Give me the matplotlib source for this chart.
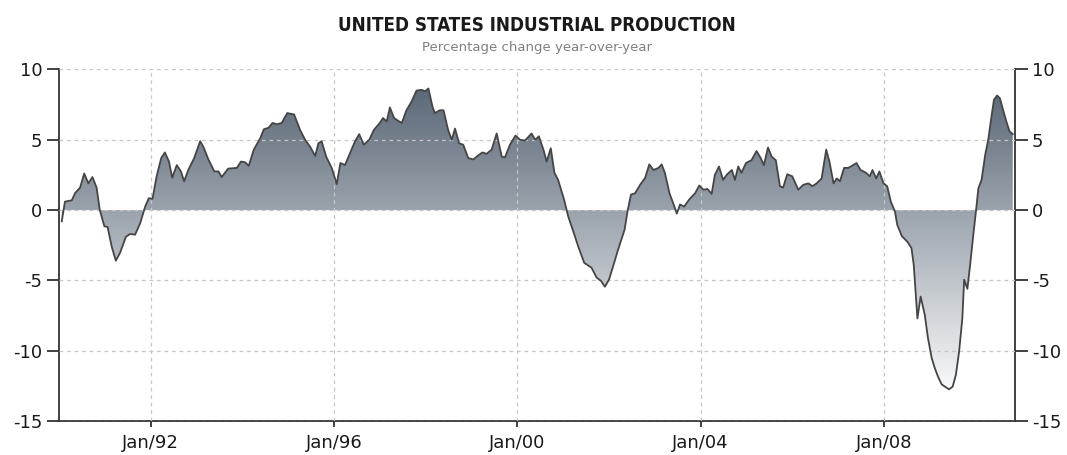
import numpy as np
import matplotlib
matplotlib.use("Agg")
import matplotlib.pyplot as plt
from matplotlib.colors import LinearSegmentedColormap

# decimal year / yoy % change
years = [1990.06, 1990.13, 1990.28, 1990.35, 1990.46, 1990.55, 1990.64, 1990.73, 1990.82, 1990.89,
         1990.99, 1991.06, 1991.15, 1991.24, 1991.33, 1991.46, 1991.55, 1991.66, 1991.77, 1991.88,
         1991.96, 1992.04, 1992.13, 1992.23, 1992.31, 1992.40, 1992.47, 1992.57, 1992.66, 1992.73,
         1992.82, 1992.95, 1993.08, 1993.15, 1993.26, 1993.39, 1993.48, 1993.55, 1993.69, 1993.88,
         1993.97, 1994.06, 1994.14, 1994.25, 1994.39, 1994.47, 1994.57, 1994.66, 1994.75, 1994.86,
         1994.98, 1995.13, 1995.26, 1995.37, 1995.48, 1995.59, 1995.66, 1995.73, 1995.83, 1995.95,
         1996.06, 1996.14, 1996.24, 1996.35, 1996.46, 1996.55, 1996.65, 1996.77, 1996.87, 1997.00,
         1997.07, 1997.15, 1997.22, 1997.31, 1997.40, 1997.48, 1997.58, 1997.69, 1997.80, 1997.91,
         1997.99, 1998.06, 1998.15, 1998.20, 1998.31, 1998.39, 1998.49, 1998.57, 1998.64, 1998.73,
         1998.82, 1998.93, 1999.04, 1999.15, 1999.24, 1999.33, 1999.44, 1999.55, 1999.66, 1999.73,
         1999.84, 1999.96, 2000.06, 2000.17, 2000.31, 2000.39, 2000.47, 2000.57, 2000.64, 2000.73,
         2000.81, 2000.89, 2001.02, 2001.11, 2001.22, 2001.33, 2001.46, 2001.62, 2001.73, 2001.83,
         2001.91, 2002.00, 2002.09, 2002.20, 2002.34, 2002.41, 2002.48, 2002.57, 2002.68, 2002.79,
         2002.88, 2002.97, 2003.08, 2003.15, 2003.22, 2003.32, 2003.40, 2003.48, 2003.55, 2003.64,
         2003.75, 2003.88, 2003.97, 2004.06, 2004.15, 2004.24, 2004.31, 2004.40, 2004.49, 2004.58,
         2004.68, 2004.75, 2004.82, 2004.89, 2004.99, 2005.11, 2005.22, 2005.31, 2005.38, 2005.47,
         2005.55, 2005.64, 2005.73, 2005.80, 2005.89, 2006.00, 2006.13, 2006.24, 2006.35, 2006.44,
         2006.53, 2006.64, 2006.74, 2006.81, 2006.90, 2006.97, 2007.04, 2007.13, 2007.22, 2007.33,
         2007.40, 2007.49, 2007.61, 2007.69, 2007.75, 2007.83, 2007.90, 2007.99, 2008.07, 2008.15,
         2008.24, 2008.29, 2008.39, 2008.51, 2008.60, 2008.65, 2008.69, 2008.73, 2008.80, 2008.89,
         2008.96, 2009.04, 2009.11, 2009.18, 2009.26, 2009.33, 2009.42, 2009.50, 2009.57, 2009.64,
         2009.71, 2009.75, 2009.82, 2009.88, 2009.95, 2010.01, 2010.06, 2010.13, 2010.21, 2010.28,
         2010.33, 2010.40, 2010.47, 2010.53, 2010.61, 2010.68, 2010.74, 2010.81]
values = [-0.8, 0.6, 0.7, 1.2, 1.6, 2.6, 1.9, 2.35, 1.6, 0.0,
          -1.15, -1.2, -2.6, -3.6, -3.05, -1.9, -1.7, -1.75, -0.95, 0.25,
          0.85, 0.8, 2.4, 3.7, 4.1, 3.45, 2.3, 3.2, 2.75, 2.05,
          2.85, 3.7, 4.9, 4.5, 3.6, 2.75, 2.75, 2.35, 2.95, 3.0,
          3.45, 3.4, 3.15, 4.3, 5.1, 5.75, 5.85, 6.2, 6.1, 6.2,
          6.9, 6.8, 5.7, 5.0, 4.5, 3.85, 4.75, 4.9, 3.8, 3.0,
          1.85, 3.35, 3.2, 4.05, 4.9, 5.4, 4.65, 5.0, 5.7, 6.2,
          6.55, 6.3, 7.3, 6.55, 6.35, 6.2, 7.1, 7.7, 8.5, 8.55,
          8.45, 8.65, 7.35, 6.9, 7.1, 7.1, 5.7, 5.0, 5.8, 4.75,
          4.65, 3.7, 3.6, 3.9, 4.1, 4.0, 4.3, 5.45, 3.8, 3.75,
          4.65, 5.3, 5.0, 4.95, 5.45, 5.0, 5.25, 4.3, 3.45, 4.4,
          2.65, 2.15, 0.75, -0.45, -1.5, -2.6, -3.75, -4.1, -4.8, -5.05,
          -5.45, -4.95, -4.0, -2.8, -1.4, 0.0, 1.1, 1.2, 1.8, 2.3,
          3.25, 2.85, 3.0, 3.25, 2.65, 1.2, 0.5, -0.25, 0.4, 0.25,
          0.75, 1.2, 1.75, 1.45, 1.5, 1.15, 2.5, 3.1, 2.15, 2.55,
          2.85, 2.15, 3.1, 2.65, 3.35, 3.55, 4.2, 3.7, 3.2, 4.45,
          3.8, 3.55, 1.7, 1.6, 2.55, 2.4, 1.45, 1.8, 1.9, 1.7,
          1.9, 2.25, 4.3, 3.45, 1.9, 2.25, 2.05, 3.0, 3.0, 3.2,
          3.35, 2.85, 2.65, 2.4, 2.85, 2.25, 2.75, 1.9, 1.7, 0.6,
          -0.1, -1.05, -1.85, -2.25, -2.7, -3.9, -5.8, -7.7, -6.15, -7.45,
          -9.1, -10.5, -11.25, -11.85, -12.4, -12.55, -12.75, -12.55, -11.7, -10.05,
          -7.7, -4.95, -5.6, -3.9, -1.75, 0.0, 1.55, 2.15, 3.95, 5.1,
          6.3, 7.85, 8.15, 7.95, 7.0, 6.2, 5.6, 5.4]

tick_years = [1992, 1996, 2000, 2004, 2008]
tick_labels = ["Jan/92", "Jan/96", "Jan/00", "Jan/04", "Jan/08"]
y_ticks = [-15, -10, -5, 0, 5, 10]

x = np.array(years)
y = np.array(values)

fig = plt.figure(figsize=(10.67, 4.55), dpi=100)
ax = fig.add_axes([0.0553, 0.0747, 0.896, 0.7726])

# gradient fill clipped to the area between the line and zero
poly = ax.fill_between(x, y, 0, facecolor="none", edgecolor="none")
cmap = LinearSegmentedColormap.from_list("slate", ["#f8f9fa", "#5b6877"])
grad = np.linspace(0, 1, 256).reshape(-1, 1)
im = ax.imshow(grad, cmap=cmap, aspect="auto", origin="lower",
               extent=[1990.0, 2010.86, y.min(), y.max()], zorder=1)
im.set_clip_path(poly.get_paths()[0], transform=ax.transData)
ax.set_xlim(1990.0, 2010.86)
ax.set_ylim(-15, 10)

ax.plot(x, y, color="#454545", lw=1.3, zorder=4)

ax.grid(True, color="#c6c6c6", linestyle=(0, (3, 3)), lw=0.9)
ax.set_axisbelow(False)
for gl in ax.get_xgridlines() + ax.get_ygridlines():
    gl.set_zorder(3)

ax.set_xticks(tick_years)
ax.set_xticklabels(tick_labels)
ax.set_yticks(y_ticks)
ax.set_yticklabels([str(v) for v in y_ticks])

ax.spines["top"].set_visible(False)
for side in ["left", "right", "bottom"]:
    ax.spines[side].set_color("#333333")
    ax.spines[side].set_linewidth(1.3)

ax.tick_params(axis="y", direction="out", length=9, width=1.3, color="#333333",
               labelsize=13, labelcolor="#1a1a1a", right=True, labelright=True, pad=3)
ax.tick_params(axis="x", direction="out", length=4, width=1.3, color="#333333",
               labelsize=13, labelcolor="#1a1a1a", pad=5)

fig.text(0.503, 0.945, "UNITED STATES INDUSTRIAL PRODUCTION", ha="center", va="center",
         fontsize=13.5, fontweight="bold", fontstretch="condensed", color="#1a1a1a")
fig.text(0.503, 0.895, "Percentage change year-over-year", ha="center", va="center",
         fontsize=9.5, color="#808080")

fig.savefig("out.png", dpi=100)
